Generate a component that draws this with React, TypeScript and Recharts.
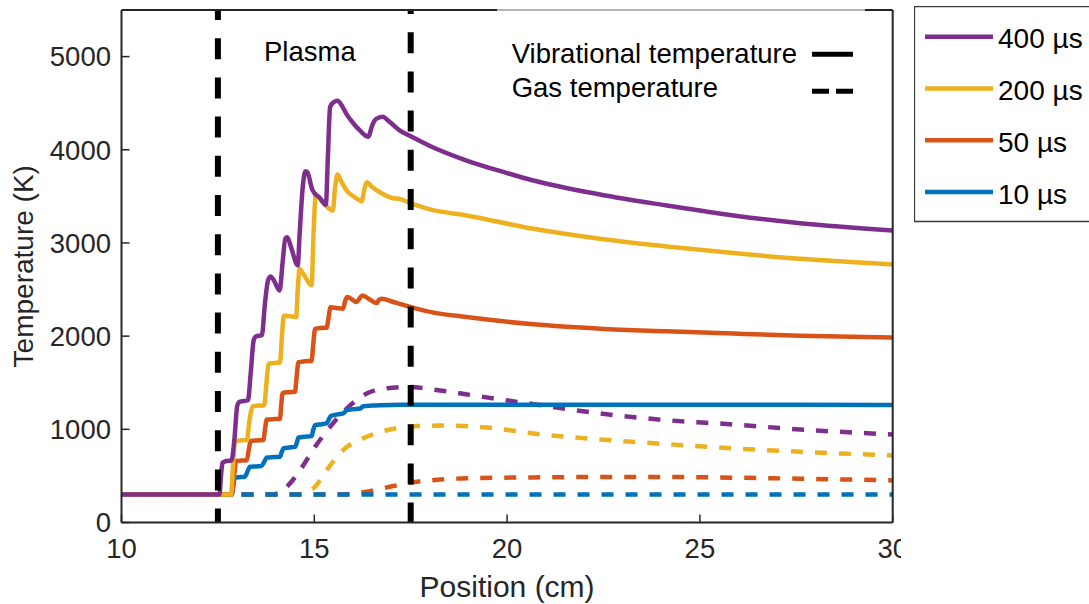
import { Legend, Line, LineChart, ReferenceLine, XAxis, YAxis } from "recharts";

const FONT = '"Liberation Sans", Arial, Helvetica, sans-serif';
const INK = "#262626";

const xTicks = [10, 15, 20, 25, 30];
const yTicks = [0, 1000, 2000, 3000, 4000, 5000];
const plasmaEdges = [12.5, 17.5];

// [position (cm), temperature (K)]
const vib400 = [
  [10, 300], [12.54, 300], [12.58, 500], [12.62, 640], [12.7, 658], [12.85, 665], [12.93, 900], [13.0, 1250],
  [13.06, 1295], [13.28, 1312], [13.35, 1600], [13.43, 1960], [13.5, 2000], [13.64, 2010], [13.72, 2350],
  [13.8, 2600], [13.87, 2640], [13.95, 2600], [14.1, 2490], [14.18, 2800], [14.25, 3050], [14.3, 3060],
  [14.4, 2950], [14.57, 2760], [14.62, 3100], [14.7, 3600], [14.77, 3770], [14.82, 3760], [14.95, 3570],
  [15.15, 3480], [15.3, 3410], [15.35, 3900], [15.41, 4460], [15.5, 4510], [15.6, 4525], [15.72, 4470],
  [15.84, 4380], [16.0, 4290], [16.2, 4200], [16.4, 4140], [16.5, 4260], [16.6, 4330], [16.77, 4355],
  [16.95, 4300], [17.22, 4205], [17.48, 4150], [18.0, 4040], [18.95, 3884], [20.0, 3750], [20.68, 3670],
  [22.41, 3520], [24.14, 3402], [25.87, 3294], [27.6, 3212], [30, 3134],
];
const vib200 = [
  [10, 300], [12.84, 300], [12.89, 600], [12.94, 870], [13.05, 880], [13.25, 884], [13.32, 1100], [13.4, 1245],
  [13.55, 1255], [13.7, 1259], [13.76, 1500], [13.81, 1700], [13.95, 1712], [14.11, 1716], [14.16, 2000],
  [14.21, 2220], [14.35, 2215], [14.53, 2205], [14.57, 2500], [14.62, 2720], [14.7, 2680], [14.93, 2545],
  [14.98, 3100], [15.04, 3520], [15.1, 3500], [15.3, 3400], [15.48, 3348], [15.54, 3600], [15.6, 3734],
  [15.7, 3660], [15.84, 3562], [16.05, 3490], [16.23, 3448], [16.3, 3580], [16.36, 3652], [16.5, 3600],
  [16.7, 3544], [17.05, 3480], [17.2, 3475], [17.48, 3430], [18.0, 3360], [18.95, 3295], [20.68, 3152],
  [22.41, 3045], [24.14, 2962], [25.87, 2891], [27.6, 2830], [30, 2770],
];
const vib50 = [
  [10, 300], [12.86, 300], [12.92, 500], [12.97, 660], [13.1, 665], [13.25, 669], [13.3, 780], [13.35, 875],
  [13.5, 880], [13.68, 884], [13.72, 1000], [13.77, 1105], [13.95, 1110], [14.11, 1112], [14.14, 1250],
  [14.18, 1390], [14.35, 1398], [14.5, 1402], [14.54, 1560], [14.59, 1720], [14.75, 1730], [14.93, 1734],
  [14.97, 1900], [15.02, 2078], [15.2, 2088], [15.32, 2091], [15.37, 2200], [15.42, 2310], [15.6, 2300],
  [15.75, 2295], [15.8, 2380], [15.86, 2420], [16.1, 2366], [16.18, 2410], [16.25, 2437], [16.45, 2390],
  [16.62, 2355], [16.68, 2390], [16.75, 2402], [17.05, 2366], [17.48, 2315], [18.0, 2260], [18.95, 2205],
  [20.68, 2127], [22.41, 2080], [24.14, 2052], [25.87, 2027], [27.6, 2005], [30, 1984],
];
const vib10 = [
  [10, 300], [12.86, 300], [12.9, 400], [12.94, 484], [13.1, 488], [13.2, 491], [13.27, 550], [13.33, 598],
  [13.5, 602], [13.63, 605], [13.7, 650], [13.77, 698], [13.95, 702], [14.11, 705], [14.15, 750], [14.2, 795],
  [14.35, 805], [14.5, 812], [14.55, 860], [14.59, 913], [14.75, 920], [14.93, 927], [14.97, 990],
  [15.02, 1045], [15.2, 1055], [15.32, 1063], [15.37, 1100], [15.42, 1141], [15.6, 1160], [15.75, 1170],
  [15.8, 1190], [15.84, 1205], [16.0, 1215], [16.19, 1223], [16.27, 1248], [16.5, 1255], [16.72, 1259],
  [17.22, 1264], [18, 1265], [20, 1264], [25, 1263], [30, 1262],
];

const gas400 = [
  [10, 300], [13.8, 300], [14.02, 310], [14.33, 402], [14.63, 562], [15.02, 812], [15.41, 1027], [15.84, 1223],
  [16.36, 1384], [16.88, 1440], [17.48, 1455], [18.09, 1427], [19.38, 1348], [20.68, 1270], [22.41, 1170],
  [24.14, 1098], [25.87, 1052], [27.6, 998], [30, 945],
];
const gas200 = [
  [10, 300], [14.6, 300], [14.8, 320], [15.02, 384], [15.32, 562], [15.75, 777], [16.36, 920], [16.96, 998],
  [17.57, 1034], [18.26, 1040], [19.56, 1016], [20.68, 955], [22.41, 891], [24.14, 841], [25.87, 795],
  [27.6, 759], [30, 720],
];
const gas50 = [
  [10, 300], [15.6, 300], [16.36, 330], [17.05, 391], [17.66, 437], [18.43, 465], [18.95, 475], [20.68, 484],
  [22.41, 488], [24.14, 488], [25.87, 481], [27.6, 470], [30, 452],
];
const gas10 = [[10, 300], [30, 300]];

const series = [
  { name: "400 µs", color: "#7E2F8E", vib: vib400, gas: gas400 },
  { name: "200 µs", color: "#EDB120", vib: vib200, gas: gas200 },
  { name: "50 µs", color: "#D95319", vib: vib50, gas: gas50 },
  { name: "10 µs", color: "#0072BD", vib: vib10, gas: gas10 },
];

const rows = (pts: number[][]) => pts.map(([x, t]) => ({ x, t }));

function BottomTick(props: any) {
  const { x, y, payload } = props;
  const id = `xclip-${payload.value}`;
  return (
    <g>
      <defs>
        <clipPath id={id}>
          <rect x={0} y={0} width={901} height={604} />
        </clipPath>
      </defs>
      <text x={x} y={y} dy="0.71em" textAnchor="middle" fill={INK} fontSize={27.5} fontFamily={FONT} clipPath={`url(#${id})`}>
        {payload.value}
      </text>
    </g>
  );
}

function SeriesLegend() {
  return (
    <svg width={180} height={220} style={{ display: "block", fontFamily: FONT }}>
      <path d="M175 0.5 H0.5 V215.5 H175" fill="none" stroke="#3a3a3a" strokeWidth={1.3} />
      {series.map((s, i) => (
        <g key={s.name}>
          <line x1={11} x2={79} y1={30.7 + i * 51.8} y2={30.7 + i * 51.8} stroke={s.color} strokeWidth={4.5} />
          <text x={84} y={42.3 + i * 51.8} fontSize={28} fill="#000">{s.name}</text>
        </g>
      ))}
    </svg>
  );
}

export default function App() {
  return (
    <div style={{ position: "fixed", left: 0, top: 0, width: 1089, height: 604, overflow: "hidden", background: "#fff" }}>
      <LineChart width={1089} height={604} margin={{ top: 0, right: 186.3, bottom: 0, left: 0 }}>
        <XAxis
          dataKey="x"
          type="number"
          domain={[10, 30]}
          ticks={xTicks}
          interval={0}
          height={81.5}
          tickSize={-8}
          tickMargin={24}
          axisLine={{ stroke: INK, strokeWidth: 2 }}
          tickLine={{ stroke: INK, strokeWidth: 1.5 }}
          tick={(p: any) => <BottomTick {...p} />}
          label={{ value: "Position (cm)", position: "insideBottom", offset: 7, fill: INK, fontSize: 30, fontFamily: FONT }}
        />
        <XAxis
          xAxisId="top"
          orientation="top"
          type="number"
          domain={[10, 30]}
          ticks={[15, 20, 25]}
          interval={0}
          height={10}
          tickSize={-8}
          tickFormatter={() => ""}
          axisLine={{ stroke: INK, strokeWidth: 2 }}
          tickLine={{ stroke: INK, strokeWidth: 1.5 }}
        />
        <YAxis
          type="number"
          domain={[0, 5500]}
          ticks={yTicks}
          interval={0}
          width={121.5}
          tickSize={-8}
          tickMargin={18.5}
          axisLine={{ stroke: INK, strokeWidth: 2 }}
          tickLine={{ stroke: INK, strokeWidth: 1.5 }}
          tick={{ fill: INK, fontSize: 27.5, fontFamily: FONT }}
          label={{
            value: "Temperature (K)",
            angle: -90,
            position: "insideLeft",
            offset: 23,
            fill: INK,
            fontSize: 28,
            fontFamily: FONT,
            style: { textAnchor: "middle" },
          }}
        />
        <YAxis
          yAxisId="r"
          orientation="right"
          type="number"
          domain={[0, 5500]}
          ticks={yTicks}
          interval={0}
          width={10}
          tickSize={-8}
          tickFormatter={() => ""}
          axisLine={{ stroke: INK, strokeWidth: 2 }}
          tickLine={{ stroke: INK, strokeWidth: 1.5 }}
        />

        {series.map((s) => (
          <Line
            key={`gas-${s.name}`}
            data={rows(s.gas)}
            dataKey="t"
            type="monotone"
            stroke={s.color}
            strokeWidth={4.5}
            strokeDasharray="12 12"
            dot={false}
            activeDot={false}
            legendType="none"
            isAnimationActive={false}
          />
        ))}
        {[...series].reverse().map((s) => (
          <Line
            key={`vib-${s.name}`}
            name={s.name}
            data={rows(s.vib)}
            dataKey="t"
            type="monotone"
            stroke={s.color}
            strokeWidth={4.5}
            dot={false}
            activeDot={false}
            isAnimationActive={false}
          />
        ))}

        {plasmaEdges.map((x, i) => (
          <ReferenceLine
            key={x}
            segment={[{ x, y: 5500 }, { x, y: 0 }]}
            stroke="#000"
            strokeWidth={6}
            strokeDasharray="21 18.2"
            strokeDashoffset={i === 0 ? 11 : 17}
          />
        ))}

        <Legend
          layout="vertical"
          align="center"
          verticalAlign="middle"
          content={() => <SeriesLegend />}
          wrapperStyle={{ left: 914, top: 6, width: 180, height: 220 }}
        />
      </LineChart>

      <svg
        width={1089}
        height={604}
        style={{ position: "absolute", left: 0, top: 0, pointerEvents: "none", fontFamily: FONT }}
      >
        <rect x={497} y={0} width={368} height={110} fill="#fff" fillOpacity={0.65} />
        <text x={264} y={61} fontSize={27.5} fill="#000">Plasma</text>
        <text x={511.7} y={63.3} fontSize={27.5} fill="#000">Vibrational temperature</text>
        <text x={511.7} y={97} fontSize={27.5} fill="#000">Gas temperature</text>
        <line x1={812} x2={853} y1={54.3} y2={54.3} stroke="#000" strokeWidth={5} />
        <line x1={812} x2={853} y1={91.3} y2={91.3} stroke="#000" strokeWidth={5} strokeDasharray="17 7" />
      </svg>
    </div>
  );
}
